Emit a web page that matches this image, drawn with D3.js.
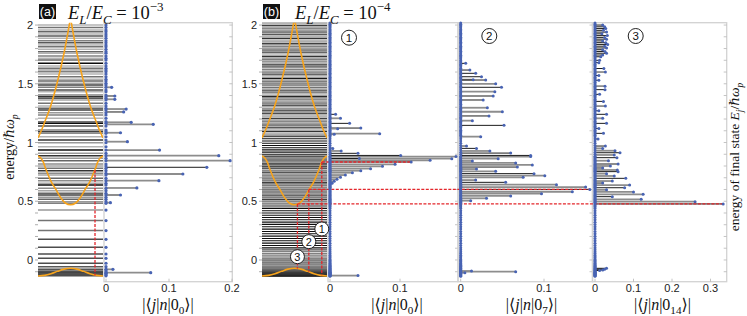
<!DOCTYPE html>
<html><head><meta charset="utf-8">
<script src="https://cdn.jsdelivr.net/npm/d3@7/dist/d3.min.js"></script>
<style>body{margin:0;background:#fff;}svg{display:block;}</style>
</head><body>
<svg id="chart" width="747" height="316"></svg>
<script>
// ================= DATA =================
const energyTicks = [0, 0.5, 1, 1.5, 2];
const energyTickLabels = ["0", "0.5", "1", "1.5", "2"];
const ampTicksA = [0, 0.1, 0.2];
const ampTicksB1 = [0, 0.1];
const ampTicksB2 = [0, 0.1];
const ampTicksB3 = [0, 0.1, 0.2, 0.3];

// Bloch-band-like orange curves (u = position across the level box, 0..1)
const bandLowU = [0, 0.1, 0.2, 0.3, 0.4, 0.5, 0.6, 0.7, 0.8, 0.9, 1];
const bandLowE = [-0.136, -0.131, -0.117, -0.097, -0.078, -0.071, -0.078, -0.097, -0.117, -0.131, -0.136];
const bandMidU = [0, 0.04, 0.08, 0.123, 0.2, 0.28, 0.35, 0.42, 0.5, 0.58, 0.65, 0.72, 0.8, 0.877, 0.92, 0.96, 1];
const bandMidE = [0.885, 0.87, 0.835, 0.77, 0.67, 0.596, 0.53, 0.485, 0.47, 0.485, 0.53, 0.596, 0.67, 0.77, 0.835, 0.87, 0.885];
const bandTopU = [0, 0.05, 0.1, 0.2, 0.3, 0.4, 0.5, 0.6, 0.7, 0.8, 0.9, 0.95, 1];
const bandTopE = [1.04, 1.1, 1.17, 1.32, 1.52, 1.76, 2.06, 1.76, 1.52, 1.32, 1.17, 1.1, 1.04];

// Panel (a): levels [energy, grey level 0=black..1=white]
const levelsA = [
 [2.0,.7],[1.98,.45],[1.957,.7],[1.943,.4],[1.923,.7],[1.906,.35],[1.887,.7],[1.866,.5],[1.849,.35],[1.83,.7],
 [1.815,.45],[1.793,.7],[1.773,.4],[1.76,.7],[1.736,.5],[1.717,.7],[1.702,.4],[1.674,.05],[1.651,.7],[1.632,.45],
 [1.617,.65],[1.603,.5],[1.583,.7],[1.56,.45],[1.538,.7],[1.523,.4],[1.504,.65],[1.489,.25],[1.47,.5],[1.447,.3],
 [1.432,.7],[1.404,.5],[1.39,.2],[1.376,.35],[1.362,.65],[1.334,.45],[1.311,.7],[1.291,.4],[1.277,.25],[1.254,.6],
 [1.234,.5],[1.206,.7],[1.177,.45],[1.163,.05],[1.14,.3],[1.106,.5],[1.092,.25],[1.078,.55],[1.049,.7],[1.021,.2],
 [0.998,.6],[0.964,.7],[0.936,.05],[0.908,.6],[0.888,.2],[0.865,.6],[0.845,.4],[0.817,.55],[0.8,.65],[0.78,.45],
 [0.76,.2],[0.738,.55],[0.723,.65],[0.695,.4],[0.675,.55],[0.653,.65],[0.638,.05],[0.61,.55],[0.59,.65],[0.567,.4],
 [0.553,.25],[0.533,.6],[0.516,.4],[0.496,.6],[0.482,.5],[0.425,.6],[0.335,.45],[0.25,.45],[0.176,.3],[0.108,.3],
 [0.051,.3],[0.014,.3],[-0.028,.3],[-0.057,.35],[-0.08,.3],[-0.085,.35],[-0.1,.3],[-0.108,.2],[-0.113,.35],[-0.12,.3],
 [-0.128,.25],[-0.135,.3]
];
// Panel (a) stems: [energy, |<j|n|0_0>|, tone 0=grey 1=black]
const stemsA = [
 [1.47,0.009,0],[1.396,0.014,1],[1.368,0.014,0],[1.285,0.032,0],[1.26,0.028,1],[1.172,0.04,0],[1.155,0.075,0],
 [1.083,0.023,0],[1.007,0.034,0],[0.936,0.085,0],[0.888,0.179,0],[0.845,0.197,0],[0.789,0.16,1],[0.732,0.122,0],
 [0.675,0.084,0],[0.613,0.049,0],[0.553,0.023,1],[0.488,0.007,0],[-0.08,0.011,0],[-0.108,0.071,0]
];

// Panel (b): levels [energy, grey]
const levelsB = [
 [-0.138,.1],[-0.135,.15],[-0.132,.1],[-0.129,.2],[-0.126,.1],[-0.123,.2],[-0.12,.15],[-0.117,.25],[-0.114,.15],[-0.111,.3],
 [-0.108,.2],[-0.105,.3],[-0.102,.2],[-0.098,.35],[-0.094,.25],[-0.09,.4],[-0.086,.3],[-0.081,.45],[-0.076,.35],[-0.071,.5],
 [-0.065,.4],[-0.059,.55],[-0.053,.45],[-0.046,.6],[-0.039,.5],[-0.031,.6],[-0.023,.45],[-0.014,.6],[-0.005,.5],[0.005,.55],
 [0.016,.4],[0.028,.55],[0.041,.45],[0.055,.5],[0.07,.35],[0.086,.3],
 [0.103,.05],[0.123,.05],[0.143,.05],[0.163,.05],[0.183,.05],[0.203,.05],[0.223,.05],[0.243,.05],[0.263,.05],[0.283,.05],
 [0.303,.05],[0.322,.05],[0.342,.05],[0.361,.05],[0.381,.05],[0.4,.05],[0.419,.05],[0.438,.05],
 [0.452,.35],[0.46,.6],[0.468,.3],[0.476,.65],[0.484,.45],[0.492,.7],[0.5,.4],[0.508,.6],[0.516,.25],[0.524,.65],
 [0.532,.5],[0.54,.7],[0.548,.35],[0.556,.6],[0.564,.45],[0.572,.7],[0.58,.3],[0.588,.6],[0.596,.5],[0.604,.2],
 [0.612,.65],[0.62,.45],[0.628,.7],[0.636,.35],[0.644,.6],[0.652,.5],[0.66,.25],[0.668,.65],[0.676,.45],[0.684,.7],
 [0.692,.35],[0.7,.55],[0.708,.4],[0.716,.7],[0.724,.3],[0.732,.6],[0.74,.5],[0.748,.2],[0.756,.6],[0.764,.45],
 [0.772,.7],[0.78,.35],[0.788,.55],[0.796,.3],[0.804,.6],[0.812,.45],[0.82,.25],[0.828,.6],[0.836,.4],[0.844,.55],
 [0.852,.3],[0.86,.5],[0.868,.35],[0.876,.45],[0.884,.2],
 [0.9,.05],[0.918,.05],[0.937,.05],[0.956,.05],[0.975,.05],[0.994,.05],[1.013,.05],[1.032,.05],
 [1.05,.3],[1.061,.6],[1.072,.45],[1.083,.7],[1.094,.2],[1.105,.55],[1.116,.65],[1.127,.35],[1.138,.6],[1.149,.1],
 [1.16,.5],[1.171,.7],[1.182,.4],[1.193,.6],[1.204,.25],[1.215,.65],[1.226,.5],[1.237,.7],[1.248,.3],[1.259,.55],
 [1.27,.15],[1.281,.6],[1.292,.45],[1.303,.7],[1.314,.35],[1.325,.6],[1.336,.2],[1.347,.55],[1.358,.7],[1.369,.4],
 [1.38,.6],[1.391,.15],[1.402,.5],[1.413,.7],[1.424,.35],[1.435,.6],[1.446,.25],[1.457,.65],[1.468,.45],[1.479,.7],
 [1.49,.2],[1.501,.55],[1.512,.65],[1.523,.35],[1.534,.6],[1.545,.1],[1.556,.5],[1.567,.7],[1.578,.4],[1.589,.6],
 [1.6,.25],[1.611,.65],[1.622,.5],[1.633,.7],[1.644,.3],[1.655,.55],[1.666,.15],[1.677,.6],[1.688,.45],[1.699,.7],
 [1.71,.35],[1.721,.6],[1.732,.2],[1.743,.55],[1.754,.7],[1.765,.4],[1.776,.6],[1.787,.15],[1.798,.5],[1.809,.7],
 [1.82,.35],[1.831,.6],[1.842,.25],[1.853,.65],[1.864,.45],[1.875,.7],[1.886,.2],[1.897,.55],[1.908,.65],[1.919,.35],
 [1.93,.6],[1.941,.1],[1.952,.5],[1.963,.7],[1.974,.4],[1.985,.6],[1.996,.25],[2.007,.65],[2.018,.5]
];
// Panel (b) stems: [energy, amplitude, tone]
const stemsB1 = [
 [1.24,0.008,1],[1.206,0.015,0],[1.163,0.028,1],[1.123,0.044,1],[1.118,0.011,0],[1.075,0.071,0],[1.07,0.006,0],
 [0.95,0.004,0],[0.928,0.016,0],[0.908,0.04,1],[0.88,0.18,0],[0.89,0.101,1],[0.862,0.174,0],[0.864,0.042,1],
 [0.848,0.143,0],[0.834,0.116,1],[0.814,0.093,0],[0.797,0.075,0],[0.777,0.058,0],[0.76,0.044,0],[0.743,0.032,0],
 [0.723,0.022,0],[0.704,0.015,0],[0.687,0.01,0],[0.67,0.006,0],[0.653,0.003,0],[-0.133,0.04,0]
];
const stemsB2 = [
 [1.674,0.006,1],[1.617,0.011,1],[1.589,0.018,1],[1.56,0.025,1],[1.535,0.015,0],[1.532,0.03,1],[1.5,0.042,0],
 [1.47,0.049,1],[1.433,0.041,0],[1.396,0.039,0],[1.362,0.027,1],[1.296,0.032,0],[1.262,0.05,0],[1.226,0.034,1],
 [1.186,0.014,0],[1.146,0.052,1],[1.05,0.024,0],[0.97,0.007,0],[0.95,0.019,1],[0.928,0.035,0],[0.91,0.06,1],
 [0.88,0.084,0],[0.89,0.084,1],[0.862,0.045,0],[0.843,0.014,0],[0.826,0.066,0],[0.809,0.086,0],[0.791,0.068,1],
 [0.774,0.019,0],[0.755,0.042,0],[0.735,0.088,1],[0.718,0.101,0],[0.704,0.075,0],[0.68,0.018,0],[0.661,0.054,1],
 [0.641,0.115,0],[0.621,0.15,0],[0.601,0.155,1],[0.581,0.134,0],[0.564,0.097,0],[0.545,0.06,0],[0.525,0.031,0],
 [0.505,0.012,0],[-0.094,0.013,0],[-0.1,0.066,0],[-0.108,0.005,0]
];
const stemsB3 = [
 [2.0,0.02,1],[1.985,0.025,1],[1.97,0.028,1],[1.955,0.022,1],[1.94,0.03,1],[1.925,0.018,1],[1.91,0.032,1],
 [1.895,0.025,1],[1.88,0.03,1],[1.865,0.02,1],[1.85,0.028,1],[1.835,0.033,1],[1.82,0.025,1],[1.805,0.03,1],
 [1.79,0.02,1],[1.775,0.026,1],[1.76,0.03,1],[1.745,0.02,1],[1.73,0.015,1],[1.7,0.012,1],[1.68,0.01,1],
 [1.63,0.023,1],[1.6,0.027,0],[1.57,0.01,1],[1.53,0.01,1],[1.48,0.026,0],[1.45,0.026,1],[1.41,0.012,1],
 [1.35,0.022,1],[1.31,0.027,0],[1.27,0.01,1],[1.24,0.03,1],[1.206,0.02,0],[1.163,0.03,1],[1.12,0.01,1],
 [1.078,0.022,1],[1.03,0.008,1],[0.97,0.027,1],[0.95,0.02,0],[0.93,0.052,0],[0.913,0.065,1],[0.894,0.05,0],
 [0.871,0.057,1],[0.845,0.035,0],[0.817,0.06,1],[0.8,0.04,0],[0.783,0.02,1],[0.766,0.058,0],[0.752,0.06,1],
 [0.735,0.03,0],[0.715,0.05,0],[0.695,0.08,1],[0.672,0.045,0],[0.655,0.02,1],[0.638,0.09,0],[0.615,0.077,1],
 [0.597,0.03,0],[0.579,0.1,0],[0.559,0.125,0],[0.539,0.045,1],[0.516,0.12,0],[0.496,0.26,0],[0.477,0.333,1],
 [-0.071,0.03,1],[-0.078,0.025,1],[-0.085,0.02,1],[-0.09,0.012,1]
];
// initial states marked in (b): energy, position on band (u), floor energy, amplitude in its own plot
const markerLabels = ["1", "2", "3"];
const markerE = [0.834, 0.601, 0.477];
const markerU = [0.92, 0.72, 0.545];
const markerFloorE = [-0.13, -0.1, -0.072];
const markerAmp = [0.116, 0.155, 0.333];
// marked state in (a)
const markerA = {u: 0.877, e: 0.766, floor: -0.133};

// ================= DRAWING =================
const svg = d3.select("#chart");
const SANS = "'Liberation Sans', Arial, sans-serif";
const SERIF = "'Liberation Serif','DejaVu Serif',serif";
const BLUE = "#4863b3", ORANGE = "#f6a31c", RED = "#e3262b", FRAME = "#d2d2d2";
const yE = d3.scaleLinear().domain([-0.185, 2.02]).range([281.7, 22.7]);
const YT = 22.7, YB = 281.7;
const grey = d3.interpolateRgb("#000", "#fff");

const defs = svg.append("defs");
const L = {
  frames: svg.append("g"), levels: svg.append("g"), bands: svg.append("g"),
  stems: svg.append("g"), red: svg.append("g"), dots: svg.append("g"), text: svg.append("g")
};

function richText(parent, x, y, parts, size, anchor, transform) {
  const t = parent.append("text").attr("font-family", SERIF).attr("font-size", size)
    .attr("fill", "#111").attr("text-anchor", anchor || "start");
  if (transform) t.attr("transform", transform); else t.attr("x", x).attr("y", y);
  let cur = 0;
  parts.forEach(p => {
    const target = p.s === "sub" ? size * 0.28 : p.s === "sup" ? -size * 0.42 : 0;
    const ts = t.append("tspan").text(p.t).attr("dy", target - cur);
    cur = target;
    if (p.i) ts.attr("font-style", "italic");
    if (p.s) ts.attr("font-size", size * 0.7);
  });
  return t;
}

function levelPanel(x0, x1, levels, sw, clipId) {
  const u = d3.scaleLinear().domain([0, 1]).range([x0, x1]);
  L.levels.append("g").selectAll("line").data(levels).join("line")
    .attr("x1", x0).attr("x2", x1)
    .attr("y1", d => yE(d[0])).attr("y2", d => yE(d[0]))
    .attr("stroke", d => grey(d[1])).attr("stroke-width", sw);
  defs.append("clipPath").attr("id", clipId).append("rect")
    .attr("x", x0).attr("y", YT).attr("width", x1 - x0).attr("height", YB - YT);
  const gb = L.bands.append("g").attr("clip-path", `url(#${clipId})`);
  const smooth = d3.line().x(d => u(d[0])).y(d => yE(d[1])).curve(d3.curveMonotoneX);
  const pair = (U, E) => U.map((v, i) => [v, E[i]]);
  const mid = Math.floor(bandTopU.length / 2);
  const top = pair(bandTopU, bandTopE);
  [pair(bandLowU, bandLowE), pair(bandMidU, bandMidE), top.slice(0, mid + 1), top.slice(mid)].forEach(c =>
    gb.append("path").attr("d", smooth(c)).attr("fill", "none").attr("stroke", ORANGE).attr("stroke-width", 1.6));
  // left energy ticks
  const minor = d3.range(-1, 21).map(k => k / 10);
  L.frames.append("g").selectAll("line").data(minor).join("line")
    .attr("x1", x0 - 3).attr("x2", x0).attr("y1", d => yE(d)).attr("y2", d => yE(d))
    .attr("stroke", "#999").attr("stroke-width", 0.8);
  L.text.append("g").selectAll("text").data(energyTicks).join("text")
    .attr("x", x0 - 5).attr("y", d => yE(d) + 4).attr("text-anchor", "end")
    .attr("font-family", SANS).attr("font-size", 11).attr("fill", "#222")
    .text((d, i) => energyTickLabels[i]);
  return u;
}

function stemPanel(f0, f1, x0px, pxPerUnit, ticks, levels, stems, r) {
  const x = d3.scaleLinear().domain([(f0 - x0px) / pxPerUnit, (f1 - x0px) / pxPerUnit]).range([f0, f1]);
  L.frames.append("rect").attr("x", f0).attr("y", YT).attr("width", f1 - f0).attr("height", YB - YT)
    .attr("fill", "none").attr("stroke", FRAME).attr("stroke-width", 1.3);
  const minor = d3.range(-1, 21).map(k => k / 10);
  L.frames.append("g").selectAll("line").data(minor).join("line")
    .attr("x1", f1 - 3).attr("x2", f1).attr("y1", d => yE(d)).attr("y2", d => yE(d))
    .attr("stroke", "#b5b5b5").attr("stroke-width", 0.8);
  L.frames.append("g").selectAll("line").data(ticks).join("line")
    .attr("x1", d => x(d)).attr("x2", d => x(d)).attr("y1", YB).attr("y2", YB - 3)
    .attr("stroke", "#b5b5b5").attr("stroke-width", 0.8);
  L.text.append("g").selectAll("text").data(ticks).join("text")
    .attr("x", d => x(d)).attr("y", 292).attr("text-anchor", "middle")
    .attr("font-family", SANS).attr("font-size", 11).attr("fill", "#222")
    .text(d => d === 0 ? "0" : d3.format(".1f")(d));
  L.stems.append("g").selectAll("line").data(stems).join("line")
    .attr("x1", x(0)).attr("x2", d => x(d[1]))
    .attr("y1", d => yE(d[0])).attr("y2", d => yE(d[0]))
    .attr("stroke", d => d[2] ? "#1c1c1c" : "#8d8d8d").attr("stroke-width", d => d[2] ? 1 : 1.8);
  L.dots.append("g").selectAll("circle").data(levels).join("circle")
    .attr("cx", x(0)).attr("cy", d => yE(d[0])).attr("r", r).attr("fill", BLUE);
  L.dots.append("g").selectAll("circle").data(stems).join("circle")
    .attr("cx", d => x(d[1])).attr("cy", d => yE(d[0])).attr("r", r).attr("fill", BLUE);
  return x;
}

// ---- Panel (a)
const uA = levelPanel(38, 103, levelsA, 1.5, "clipA");
const xA = stemPanel(104, 232.3, 106, 630, ampTicksA, levelsA, stemsA, 1.6);
L.red.append("line").attr("x1", uA(markerA.u)).attr("x2", uA(markerA.u))
  .attr("y1", yE(markerA.e)).attr("y2", yE(markerA.floor))
  .attr("stroke", RED).attr("stroke-width", 1.3).attr("stroke-dasharray", "3,1.5");

// ---- Panel (b)
const uB = levelPanel(262, 327, levelsB, 1.1, "clipB");
const xB = [
  stemPanel(328, 458, 330, 700, ampTicksB1, levelsB, stemsB1, 1.5),
  stemPanel(458, 592.5, 460.7, 833, ampTicksB2, levelsB, stemsB2, 1.5),
  stemPanel(592.5, 726.7, 595, 385, ampTicksB3, levelsB, stemsB3, 1.5)
];
markerE.forEach((e, i) => {
  const xu = uB(markerU[i]);
  L.red.append("line").attr("x1", xu).attr("x2", xu).attr("y1", yE(e)).attr("y2", yE(markerFloorE[i]))
    .attr("stroke", RED).attr("stroke-width", 1.3).attr("stroke-dasharray", "3,1.5");
  L.red.append("line").attr("x1", xu).attr("x2", xB[i](markerAmp[i])).attr("y1", yE(e)).attr("y2", yE(e))
    .attr("stroke", RED).attr("stroke-width", 1.3).attr("stroke-dasharray", "3,1.5");
});
// circled labels on the vertical lines
const circleE = [0.264, 0.156, 0.028];
markerLabels.forEach((lab, i) => {
  const g = L.text.append("g").attr("transform", `translate(${uB(markerU[i])},${yE(circleE[i])})`);
  g.append("circle").attr("r", 7).attr("fill", "#fff").attr("stroke", "#222").attr("stroke-width", 1);
  g.append("text").attr("y", 4).attr("text-anchor", "middle").attr("font-family", SANS)
    .attr("font-size", 11).attr("fill", "#111").text(lab);
});
// circled labels at top of each stem plot
const headerPos = [[349, 37.7], [489.3, 36], [635.7, 36]];
markerLabels.forEach((lab, i) => {
  const g = L.text.append("g").attr("transform", `translate(${headerPos[i][0]},${headerPos[i][1]})`);
  g.append("circle").attr("r", 7.5).attr("fill", "#fff").attr("stroke", "#222").attr("stroke-width", 1);
  g.append("text").attr("y", 4).attr("text-anchor", "middle").attr("font-family", SANS)
    .attr("font-size", 11.5).attr("fill", "#111").text(lab);
});

// ---- titles and panel tags
[["(a)", 39, 17], ["(b)", 263, 17]].forEach(([t, x, w]) => {
  L.text.append("rect").attr("x", x).attr("y", 4).attr("width", w).attr("height", 15).attr("fill", "#111");
  L.text.append("text").attr("x", x + w / 2).attr("y", 16).attr("text-anchor", "middle")
    .attr("font-family", SANS).attr("font-size", 12.5).attr("fill", "#fff").text(t);
});
richText(L.text, 68, 19, [{t: "E", i: 1}, {t: "L", i: 1, s: "sub"}, {t: "/"}, {t: "E", i: 1}, {t: "C", i: 1, s: "sub"},
  {t: " = 10"}, {t: "−3", s: "sup"}], 18.5);
richText(L.text, 295, 19, [{t: "E", i: 1}, {t: "L", i: 1, s: "sub"}, {t: "/"}, {t: "E", i: 1}, {t: "C", i: 1, s: "sub"},
  {t: " = 10"}, {t: "−4", s: "sup"}], 18.5);

// axis titles
const xLab = (sub) => [{t: "|⟨"}, {t: "j", i: 1}, {t: "|"}, {t: "n", i: 1}, {t: "|0"}, {t: sub, s: "sub"}, {t: "⟩|"}];
richText(L.text, 168, 310, xLab("0"), 16, "middle");
richText(L.text, 397, 310, xLab("0"), 16, "middle");
richText(L.text, 531.5, 310, xLab("7"), 16, "middle");
richText(L.text, 662.5, 310, xLab("14"), 16, "middle");
richText(L.text, 0, 0, [{t: "energy/"}, {t: "ℏω", i: 1}, {t: "p", i: 1, s: "sub"}], 14, "middle",
  "translate(14,147) rotate(-90)");
richText(L.text, 0, 0, [{t: "energy of final state "}, {t: "E", i: 1}, {t: "j", i: 1, s: "sub"}, {t: "/"},
  {t: "ℏω", i: 1}, {t: "p", i: 1, s: "sub"}], 13.5, "middle", "translate(739,157) rotate(-90)");
</script>
</body></html>
